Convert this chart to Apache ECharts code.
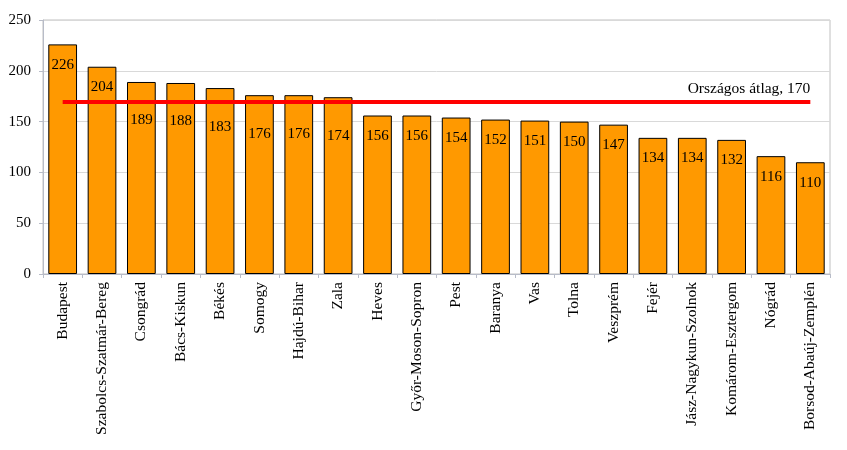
<!DOCTYPE html>
<html>
<head>
<meta charset="utf-8">
<script src="https://cdn.jsdelivr.net/npm/echarts@6/dist/echarts.min.js"></script>
<style>
  html, body { margin: 0; padding: 0; background: #fff; }
  #chart { width: 847px; height: 450px; }
</style>
</head>
<body>
<div id="chart"></div>
<script>
const counties = [
  'Budapest', 'Szabolcs-Szatmár-Bereg', 'Csongrád', 'Bács-Kiskun', 'Békés',
  'Somogy', 'Hajdú-Bihar', 'Zala', 'Heves', 'Győr-Moson-Sopron', 'Pest',
  'Baranya', 'Vas', 'Tolna', 'Veszprém', 'Fejér', 'Jász-Nagykun-Szolnok',
  'Komárom-Esztergom', 'Nógrád', 'Borsod-Abaúj-Zemplén'
]
const values = [226, 204, 189, 188, 183, 176, 176, 174, 156, 156, 154, 152, 151, 150, 147, 134, 134, 132, 116, 110]
const nationalAvg = 170
const avgLabel = 'Országos átlag, 170'
const yTicks = { min: 0, max: 250, interval: 50 }

const font = '"Liberation Serif", "DejaVu Serif", serif'
const gridTop = 20
const gridBottom = 176
const plotHeight = 450 - gridTop - gridBottom
const pxPerUnit = plotHeight / (yTicks.max - yTicks.min)

// labels sit just under the bar top; the ones that would hit the average line drop below it
const barData = values.map(v => {
  const d = v - 21 / pxPerUnit - nationalAvg
  const item = { value: v }
  if (d > -20 && d < 10) {
    item.label = { offset: [0, 18] }
  }
  return item
})

const chart = echarts.init(document.getElementById('chart'))
chart.setOption({
  animation: false,
  textStyle: { fontFamily: font },
  grid: {
    left: 43,
    right: 17,
    top: gridTop,
    bottom: gridBottom,
    show: true,
    borderColor: '#c0c0c0',
    borderWidth: 1
  },
  xAxis: {
    type: 'category',
    data: counties,
    axisLine: { lineStyle: { color: '#b8bcc8' } },
    axisTick: { show: true, length: 4, lineStyle: { color: '#b8bcc8' } },
    axisLabel: {
      rotate: 90,
      interval: 0,
      margin: 8,
      color: '#000',
      fontSize: 15.5,
      fontFamily: font
    }
  },
  yAxis: {
    type: 'value',
    min: yTicks.min,
    max: yTicks.max,
    interval: yTicks.interval,
    axisLine: { show: true, lineStyle: { color: '#b8bcc8' } },
    axisTick: { show: true, length: 4, lineStyle: { color: '#b8bcc8' } },
    axisLabel: { color: '#000', fontSize: 15, margin: 12, fontFamily: font },
    splitLine: { lineStyle: { color: '#d9d9d9' } }
  },
  series: [
    {
      type: 'bar',
      data: barData,
      barCategoryGap: '27%',
      itemStyle: { color: '#ff9900', borderColor: '#000', borderWidth: 1 },
      label: {
        show: true,
        position: 'insideTop',
        distance: 13,
        color: '#000',
        fontSize: 15,
        fontFamily: font
      },
      markLine: {
        silent: true,
        symbol: 'none',
        lineStyle: { color: '#ff0000', width: 4, type: 'solid' },
        label: {
          show: true,
          position: 'insideEndTop',
          formatter: avgLabel,
          color: '#000',
          fontSize: 15.5,
          fontFamily: font,
          distance: [0, 4]
        },
        data: [[
          { coord: [counties[0], nationalAvg] },
          { coord: [counties[counties.length - 1], nationalAvg] }
        ]]
      }
    }
  ]
})
</script>
</body>
</html>
